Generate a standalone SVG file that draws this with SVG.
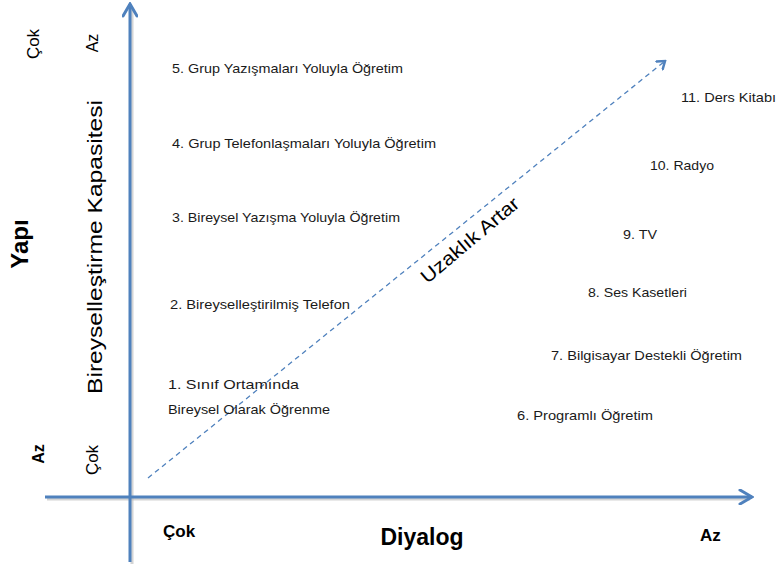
<svg xmlns="http://www.w3.org/2000/svg" width="777" height="569" viewBox="0 0 777 569">
<style>
.t{font-family:"Liberation Sans",Arial,sans-serif;font-size:13.5px;fill:#1a1a1a}
.lbl{font-family:"Liberation Sans",Arial,sans-serif;fill:#000}
.b{font-weight:bold}
.axis{stroke:#4F81BD;stroke-width:3;fill:none}
.shadow{stroke:#b8b8b8;stroke-width:3;fill:none;opacity:0.6}
</style>
<defs>
<marker id="ah" markerWidth="10" markerHeight="12" refX="8" refY="6" orient="auto" markerUnits="userSpaceOnUse" viewBox="0 0 10 12">
<path d="M1,1 L8,6 L1,11" fill="none" stroke="#4F81BD" stroke-width="2.5" stroke-linecap="round"/>
</marker>
<marker id="ah2" markerWidth="16" markerHeight="16" refX="14" refY="8" orient="auto" markerUnits="userSpaceOnUse" viewBox="0 0 16 16">
<path d="M2,1 L14,8 L2,15" fill="none" stroke="#4F81BD" stroke-width="3" stroke-linecap="round"/>
</marker>
</defs>
<g id="connectors">
<line class="shadow" x1="47" y1="499" x2="750" y2="499"/>
<line class="shadow" x1="132" y1="8" x2="132" y2="564"/>
<line id="xaxis" class="axis" x1="45" y1="497" x2="752" y2="497" marker-end="url(#ah2)"/>
<line id="yaxis" class="axis" x1="130" y1="562" x2="130" y2="4" marker-end="url(#ah2)"/>
<line id="dist" x1="148" y1="478" x2="665" y2="61" stroke="#4F81BD" stroke-width="1.3" stroke-dasharray="5,4" marker-end="url(#ah)"/>
</g>
<g id="n5"><text class="t" x="172" y="73" textLength="231" lengthAdjust="spacingAndGlyphs">5. Grup Yazışmaları Yoluyla Öğretim</text></g>
<g id="n4"><text class="t" x="172" y="148" textLength="264" lengthAdjust="spacingAndGlyphs">4. Grup Telefonlaşmaları Yoluyla Öğretim</text></g>
<g id="n3"><text class="t" x="172" y="222" textLength="228" lengthAdjust="spacingAndGlyphs">3. Bireysel Yazışma Yoluyla Öğretim</text></g>
<g id="n2"><text class="t" x="170" y="309" textLength="180" lengthAdjust="spacingAndGlyphs">2. Bireyselleştirilmiş Telefon</text></g>
<g id="n1"><text class="t" x="168" y="389" textLength="131" lengthAdjust="spacingAndGlyphs">1. Sınıf Ortamında</text><text class="t" x="168" y="414" textLength="162" lengthAdjust="spacingAndGlyphs">Bireysel Olarak Öğrenme</text></g>
<g id="n6"><text class="t" x="517" y="420" textLength="136" lengthAdjust="spacingAndGlyphs">6. Programlı Öğretim</text></g>
<g id="n7"><text class="t" x="551" y="360" textLength="191" lengthAdjust="spacingAndGlyphs">7. Bilgisayar Destekli Öğretim</text></g>
<g id="n8"><text class="t" x="588" y="297" textLength="99" lengthAdjust="spacingAndGlyphs">8. Ses Kasetleri</text></g>
<g id="n9"><text class="t" x="623" y="239" textLength="34" lengthAdjust="spacingAndGlyphs">9. TV</text></g>
<g id="n10"><text class="t" x="650" y="170" textLength="64" lengthAdjust="spacingAndGlyphs">10. Radyo</text></g>
<g id="n11"><text class="t" x="681" y="102" textLength="95" lengthAdjust="spacingAndGlyphs">11. Ders Kitabı</text></g>
<g id="uzaklik"><text class="lbl" font-size="19" text-anchor="middle" textLength="122" lengthAdjust="spacingAndGlyphs" transform="translate(474,245) rotate(-40)">Uzaklık Artar</text></g>
<g id="ylabels">
<text class="lbl" font-size="17" text-anchor="middle" transform="translate(39,44) rotate(-90)">Çok</text>
<text class="lbl" font-size="16" text-anchor="middle" transform="translate(98,43) rotate(-90)">Az</text>
<text class="lbl b" font-size="24" text-anchor="middle" transform="translate(28,244) rotate(-90)">Yapı</text>
<text class="lbl" font-size="21" text-anchor="middle" transform="translate(102,247) rotate(-90)" textLength="294" lengthAdjust="spacingAndGlyphs">Bireyselleştirme Kapasitesi</text>
<text class="lbl b" font-size="16" text-anchor="middle" transform="translate(44,454) rotate(-90)">Az</text>
<text class="lbl" font-size="17" text-anchor="middle" transform="translate(98,460) rotate(-90)">Çok</text>
</g>
<g id="xlabels">
<text class="lbl b" font-size="17" x="163" y="537">Çok</text>
<text class="lbl b" font-size="23" x="422" y="545" text-anchor="middle">Diyalog</text>
<text class="lbl b" font-size="17" x="700" y="541">Az</text>
</g>
</svg>
